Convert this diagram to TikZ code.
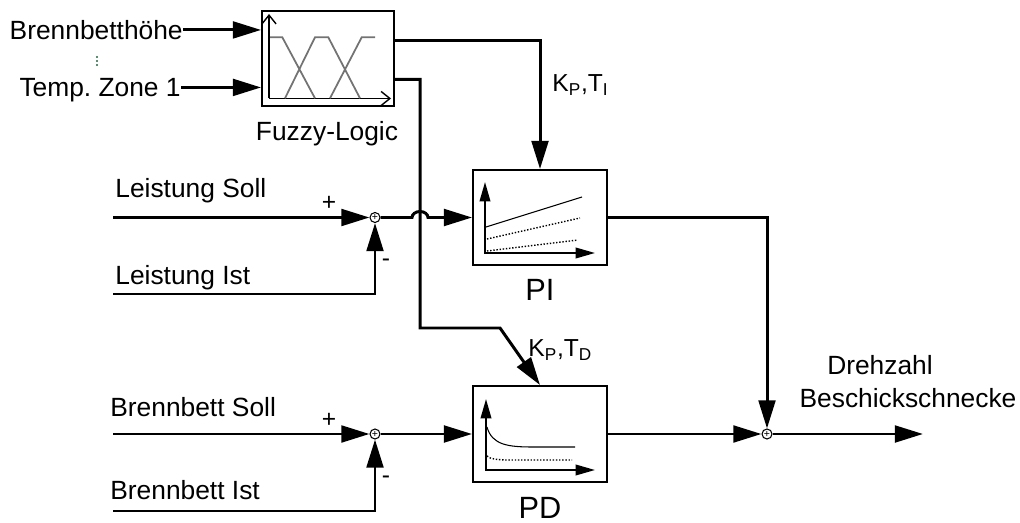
\documentclass[tikz,border=0pt]{standalone}
\usepackage{fontspec}
\setmainfont{Liberation Sans}
\usetikzlibrary{arrows.meta, positioning, calc}
\definecolor{FuzzyGray}{rgb}{0.45, 0.45, 0.45}
\definecolor{DotGreen}{rgb}{0.15, 0.38, 0.25}
\def\lw{1.7pt}

\begin{document}
\begin{tikzpicture}[x=0.02cm, y=-0.02cm,
    font=\fontsize{15}{18}\selectfont,
    sig/.style={line width=\lw, -{Triangle[length=16pt, width=9.5pt]}},
    block/.style={draw, line width=1.1pt, inner sep=0, minimum width=2.68cm, minimum height=1.9cm},
    sumpt/.style={circle, draw, line width=0.6pt, inner sep=0, minimum size=0.2cm, fill=white, font=\fontsize{6}{6}\selectfont},
    axis/.style={line width=1.1pt, {Triangle[length=11pt, width=6pt]}-{Triangle[length=11pt, width=6pt]}},
    sgn/.style={inner sep=0, font=\fontsize{14}{14}\selectfont},
    lbl/.style={inner sep=0, text depth=0pt}]

\useasboundingbox (0,0) rectangle (1020,523);

% bloecke
\node[block, minimum width=2.64cm] (fuzzy) at (328,58.5) {};
\node[block] (pi) at (540,217.5) {};
\node[block, minimum height=1.92cm] (pd) at (540,434) {};

% summierstellen
\node[sumpt] (s1) at (375,217.5) {+};
\node[sumpt] (s2) at (375,434) {+};
\node[sumpt] (s3) at (767,434) {+};

% fuzzy kennlinien
\draw[line width=0.8pt, -{Straight Barb[length=5pt, width=8pt]}] (269,98.5) -- (269,14);
\draw[line width=0.8pt, -{Straight Barb[length=5pt, width=8pt]}] (269,98.5) -- (391,98.5);
\draw[FuzzyGray, line width=1pt] (270,37.3) -- (282.3,37.3) -- (315,98.3)
    (285,98.3) -- (315,37.3) -- (328.3,37.3) -- (360,98.3)
    (330,98.3) -- (361.7,37.3) -- (375,37.3);

% PI kennlinien
\draw[axis] (485,182) -- (485,253) -- (595,253);
\draw[line width=0.6pt] (486,227) -- (582,197);
\draw[line width=0.8pt, densely dotted] (487,239) -- (580,218);
\draw[line width=0.8pt, densely dotted] (487,251) -- (578,240);

% PD kennlinien
\draw[axis] (486,399) -- (486,470) -- (595,470);
\draw[line width=0.6pt] (487,427) .. controls (492,445) and (508,447) .. (533,447) -- (575,447);
\draw[line width=0.8pt, densely dotted] (487,456) .. controls (490,459) and (498,460) .. (510,460) -- (572,460);

% eingaenge fuzzy
\node[lbl, anchor=base east] (bh) at (183,39.5) {Brennbetthöhe};
\node[lbl, anchor=base east] (tz) at (181,96.5) {Temp.\ Zone 1};
\foreach \y in {57,61,65}
    \fill[DotGreen] (97,\y) circle[radius=0.6pt];
\draw[sig] (bh.east) -- (fuzzy.west |- bh.east);
\draw[sig] (tz.east) -- (fuzzy.west |- tz.east);
\node[lbl, anchor=base] (flbl) at (327,140.5) {Fuzzy-Logic};

% parameter an PI und PD
\coordinate (fo1) at ($(fuzzy.north east)!0.316!(fuzzy.south east)$);
\coordinate (fo2) at ($(fuzzy.north east)!0.716!(fuzzy.south east)$);
\coordinate (knick1) at (420,328);
\coordinate (knick2) at (500,328);
\draw[sig] (fo1) -| (pi.north);
\draw[sig] (fo2) -| (knick1) -- (knick2) -- (pd.north);
\node[lbl, anchor=base west, font=\fontsize{14}{16}\selectfont] (kpti) at (552,91.5) {K\textsubscript{P},T\textsubscript{I}};
\node[lbl, anchor=base west, font=\fontsize{14}{16}\selectfont] (kptd) at (528,356.5) {K\textsubscript{P},T\textsubscript{D}};

% leistungsregelung
\node[lbl, anchor=base west] (lsoll) at (115,198) {Leistung Soll};
\node[lbl, anchor=base west] (list) at (115,284.5) {Leistung Ist};
\coordinate (ls) at (113,217.5);
\coordinate (li) at (113,294);
\draw[sig] (ls) -- (s1.west);
\draw[sig] (li) -| (s1.south);
\node[sgn] (p1) at (329,203) {+};
\node[sgn] (m1) at (386,263) {-};
\coordinate (hop) at (knick1 |- s1);
\draw[sig] (s1.east) -- ($(hop)+(-8,0)$) arc[start angle=180, end angle=0, x radius=0.16cm, y radius=0.12cm] -- (pi.west);
\node[lbl, anchor=base, font=\fontsize{17.5}{20}\selectfont] (pilbl) at (540,300) {PI};

% brennbettregelung
\node[lbl, anchor=base west] (bsoll) at (110,416.5) {Brennbett Soll};
\node[lbl, anchor=base west] (bist) at (110,499.5) {Brennbett Ist};
\coordinate (bs) at (113,434);
\coordinate (bi) at (113,511);
\draw[sig] (bs) -- (s2.west);
\draw[sig] (bi) -| (s2.south);
\node[sgn] (p2) at (329,420) {+};
\node[sgn] (m2) at (386,480) {-};
\draw[sig] (s2.east) -- (pd.west);
\node[lbl, anchor=base, font=\fontsize{17.5}{20}\selectfont] (pdlbl) at (540,518) {PD};

% ausgang
\draw[sig] (pi.east) -| (s3.north);
\draw[sig] (pd.east) -- (s3.west);
\coordinate (aus) at (923,434);
\draw[sig] (s3.east) -- (aus);
\node[lbl, anchor=base] (dreh) at (880,374.5) {Drehzahl};
\node[lbl, anchor=base] (besch) at (908,407.5) {Beschickschnecke};

\end{tikzpicture}
\end{document}
